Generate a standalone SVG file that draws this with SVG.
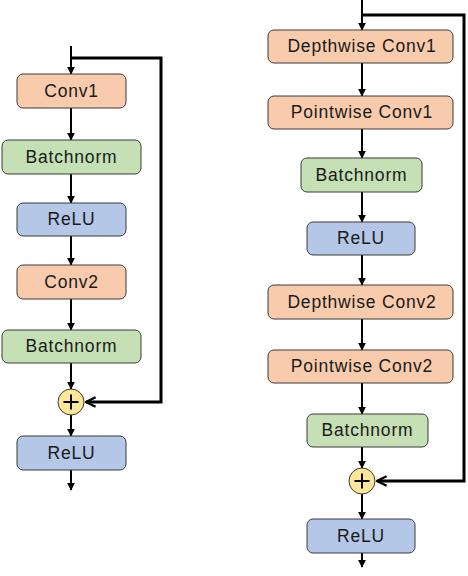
<svg xmlns="http://www.w3.org/2000/svg" width="468" height="576" viewBox="0 0 468 576">
<defs>
<style>
.box{stroke:#3a3a3a;stroke-width:1}
.conv{fill:#F8CBAD}
.bn{fill:#C5E0B4}
.relu{fill:#B4C7E7}
.sum{fill:#FFE699;stroke:#3a3a3a;stroke-width:1}
.lbl{font-family:"Liberation Sans",Arial,sans-serif;font-size:17.5px;letter-spacing:0.8px;fill:#1a1a1a;text-anchor:middle}
.ar{stroke:#000;stroke-width:2;fill:none;marker-end:url(#ah)}
.skip{stroke:#000;stroke-width:3;fill:none;marker-end:url(#ch)}
.pl{stroke:#000;stroke-width:2}
</style>
<marker id="ah" viewBox="0 0 10 10" refX="9" refY="5" markerWidth="4" markerHeight="4" orient="auto" markerUnits="strokeWidth">
<path d="M0,0 L10,5 L0,10 z" fill="#000"/>
</marker>
<marker id="ch" viewBox="0 0 10 10" refX="9" refY="5" markerWidth="4" markerHeight="4" orient="auto" markerUnits="strokeWidth">
<path d="M1,1 L9,5 L1,9" fill="none" stroke="#000" stroke-width="2"/>
</marker>
</defs>
<g id="connectors">
<line class="ar" x1="71" y1="46" x2="71" y2="74"/>
<line class="ar" x1="71" y1="108" x2="71" y2="140"/>
<line class="ar" x1="71" y1="174" x2="71" y2="203"/>
<line class="ar" x1="71" y1="236" x2="71" y2="265"/>
<line class="ar" x1="71" y1="299" x2="71" y2="330"/>
<line class="ar" x1="71" y1="363" x2="71" y2="389"/>
<line class="ar" x1="71" y1="415" x2="71" y2="436"/>
<line class="ar" x1="71" y1="470" x2="71" y2="490"/>
<path class="skip" d="M71,58 H161 V402 H86"/>
<line class="ar" x1="362" y1="0" x2="362" y2="30"/>
<line class="ar" x1="362" y1="63" x2="362" y2="96"/>
<line class="ar" x1="362" y1="129" x2="362" y2="158"/>
<line class="ar" x1="362" y1="192" x2="362" y2="222"/>
<line class="ar" x1="362" y1="255" x2="362" y2="285"/>
<line class="ar" x1="362" y1="319" x2="362" y2="350"/>
<line class="ar" x1="362" y1="383" x2="362" y2="414"/>
<line class="ar" x1="362" y1="447" x2="362" y2="468"/>
<line class="ar" x1="362" y1="494" x2="362" y2="519"/>
<line class="ar" x1="362" y1="553" x2="362" y2="567"/>
<path class="skip" d="M362,15 H464 V481 H377"/>
</g>
<g id="l-conv1"><rect class="box conv" x="17" y="74" width="109" height="34" rx="6"/><text class="lbl" x="71.5" y="97">Conv1</text></g>
<g id="l-bn1"><rect class="box bn" x="2" y="140" width="139" height="34" rx="6"/><text class="lbl" x="71.5" y="163">Batchnorm</text></g>
<g id="l-relu1"><rect class="box relu" x="17" y="203" width="109" height="33" rx="6"/><text class="lbl" x="71.5" y="225">ReLU</text></g>
<g id="l-conv2"><rect class="box conv" x="17" y="265" width="109" height="34" rx="6"/><text class="lbl" x="71.5" y="288">Conv2</text></g>
<g id="l-bn2"><rect class="box bn" x="2" y="330" width="139" height="33" rx="6"/><text class="lbl" x="71.5" y="352">Batchnorm</text></g>
<g id="l-sum"><circle class="sum" cx="71" cy="402" r="13"/><path class="pl" d="M63.5,402 H78.5 M71,394.5 V409.5"/></g>
<g id="l-relu2"><rect class="box relu" x="17" y="436" width="109" height="34" rx="6"/><text class="lbl" x="71.5" y="459">ReLU</text></g>
<g id="r-dw1"><rect class="box conv" x="268" y="30" width="185" height="33" rx="6"/><text class="lbl" x="362" y="52">Depthwise Conv1</text></g>
<g id="r-pw1"><rect class="box conv" x="268" y="96" width="185" height="33" rx="6"/><text class="lbl" x="362" y="118">Pointwise Conv1</text></g>
<g id="r-bn1"><rect class="box bn" x="301" y="158" width="121" height="34" rx="6"/><text class="lbl" x="361.5" y="181">Batchnorm</text></g>
<g id="r-relu1"><rect class="box relu" x="307" y="222" width="108" height="33" rx="6"/><text class="lbl" x="361" y="244">ReLU</text></g>
<g id="r-dw2"><rect class="box conv" x="268" y="285" width="185" height="34" rx="6"/><text class="lbl" x="362" y="308">Depthwise Conv2</text></g>
<g id="r-pw2"><rect class="box conv" x="268" y="350" width="185" height="33" rx="6"/><text class="lbl" x="362" y="372">Pointwise Conv2</text></g>
<g id="r-bn2"><rect class="box bn" x="307" y="414" width="121" height="33" rx="6"/><text class="lbl" x="367.5" y="436">Batchnorm</text></g>
<g id="r-sum"><circle class="sum" cx="362" cy="481" r="13"/><path class="pl" d="M354.5,481 H369.5 M362,473.5 V488.5"/></g>
<g id="r-relu2"><rect class="box relu" x="307" y="519" width="108" height="34" rx="6"/><text class="lbl" x="361" y="542">ReLU</text></g>
</svg>
